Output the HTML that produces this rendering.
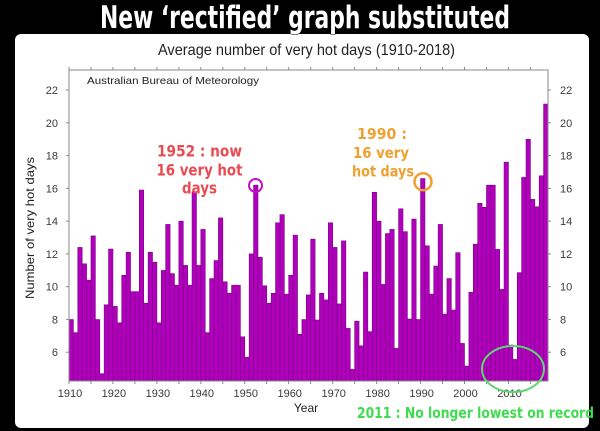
<!DOCTYPE html>
<html>
<head>
<meta charset="utf-8">
<style>
html,body{margin:0;padding:0;background:#000;}
body{width:600px;height:431px;overflow:hidden;}
svg{display:block;}
</style>
</head>
<body>
<svg width="600" height="431" viewBox="0 0 600 431" xmlns="http://www.w3.org/2000/svg">
  <rect x="0" y="0" width="600" height="431" fill="#000"/>
  <rect x="15" y="34" width="574" height="394" rx="6" ry="6" fill="#fff"/>

  <text x="100" y="28" textLength="410" lengthAdjust="spacingAndGlyphs" font-family="'DejaVu Sans', 'Liberation Sans', sans-serif" font-weight="bold" font-size="31" fill="#fff" stroke="#000" stroke-width="1" paint-order="stroke">New ‘rectified’ graph substituted</text>

  <text x="158" y="55" textLength="297" lengthAdjust="spacingAndGlyphs" font-family="'Liberation Sans', sans-serif" font-size="16" fill="#222">Average number of very hot days (1910-2018)</text>

  <defs>
    <clipPath id="plotclip"><rect x="69" y="60" width="479" height="321"/></clipPath>
  </defs>
  <g clip-path="url(#plotclip)">
    <g transform="translate(69,450.66) scale(4.3945,-16.39)" fill="#b000bc" stroke="#7a0084" stroke-width="0.6">
      <rect vector-effect="non-scaling-stroke" x="0" y="0" width="1" height="8.0"/>
      <rect vector-effect="non-scaling-stroke" x="1" y="0" width="1" height="7.2"/>
      <rect vector-effect="non-scaling-stroke" x="2" y="0" width="1" height="12.4"/>
      <rect vector-effect="non-scaling-stroke" x="3" y="0" width="1" height="11.4"/>
      <rect vector-effect="non-scaling-stroke" x="4" y="0" width="1" height="10.4"/>
      <rect vector-effect="non-scaling-stroke" x="5" y="0" width="1" height="13.1"/>
      <rect vector-effect="non-scaling-stroke" x="6" y="0" width="1" height="8.0"/>
      <rect vector-effect="non-scaling-stroke" x="7" y="0" width="1" height="4.7"/>
      <rect vector-effect="non-scaling-stroke" x="8" y="0" width="1" height="8.9"/>
      <rect vector-effect="non-scaling-stroke" x="9" y="0" width="1" height="12.3"/>
      <rect vector-effect="non-scaling-stroke" x="10" y="0" width="1" height="8.8"/>
      <rect vector-effect="non-scaling-stroke" x="11" y="0" width="1" height="7.8"/>
      <rect vector-effect="non-scaling-stroke" x="12" y="0" width="1" height="10.7"/>
      <rect vector-effect="non-scaling-stroke" x="13" y="0" width="1" height="12.1"/>
      <rect vector-effect="non-scaling-stroke" x="14" y="0" width="1" height="9.7"/>
      <rect vector-effect="non-scaling-stroke" x="15" y="0" width="1" height="9.7"/>
      <rect vector-effect="non-scaling-stroke" x="16" y="0" width="1" height="15.9"/>
      <rect vector-effect="non-scaling-stroke" x="17" y="0" width="1" height="9.0"/>
      <rect vector-effect="non-scaling-stroke" x="18" y="0" width="1" height="12.1"/>
      <rect vector-effect="non-scaling-stroke" x="19" y="0" width="1" height="11.5"/>
      <rect vector-effect="non-scaling-stroke" x="20" y="0" width="1" height="7.8"/>
      <rect vector-effect="non-scaling-stroke" x="21" y="0" width="1" height="11.0"/>
      <rect vector-effect="non-scaling-stroke" x="22" y="0" width="1" height="13.8"/>
      <rect vector-effect="non-scaling-stroke" x="23" y="0" width="1" height="10.8"/>
      <rect vector-effect="non-scaling-stroke" x="24" y="0" width="1" height="10.1"/>
      <rect vector-effect="non-scaling-stroke" x="25" y="0" width="1" height="14.0"/>
      <rect vector-effect="non-scaling-stroke" x="26" y="0" width="1" height="11.3"/>
      <rect vector-effect="non-scaling-stroke" x="27" y="0" width="1" height="10.1"/>
      <rect vector-effect="non-scaling-stroke" x="28" y="0" width="1" height="15.8"/>
      <rect vector-effect="non-scaling-stroke" x="29" y="0" width="1" height="11.3"/>
      <rect vector-effect="non-scaling-stroke" x="30" y="0" width="1" height="13.5"/>
      <rect vector-effect="non-scaling-stroke" x="31" y="0" width="1" height="7.2"/>
      <rect vector-effect="non-scaling-stroke" x="32" y="0" width="1" height="10.5"/>
      <rect vector-effect="non-scaling-stroke" x="33" y="0" width="1" height="11.6"/>
      <rect vector-effect="non-scaling-stroke" x="34" y="0" width="1" height="14.2"/>
      <rect vector-effect="non-scaling-stroke" x="35" y="0" width="1" height="10.3"/>
      <rect vector-effect="non-scaling-stroke" x="36" y="0" width="1" height="9.6"/>
      <rect vector-effect="non-scaling-stroke" x="37" y="0" width="1" height="10.1"/>
      <rect vector-effect="non-scaling-stroke" x="38" y="0" width="1" height="10.1"/>
      <rect vector-effect="non-scaling-stroke" x="39" y="0" width="1" height="6.95"/>
      <rect vector-effect="non-scaling-stroke" x="40" y="0" width="1" height="5.7"/>
      <rect vector-effect="non-scaling-stroke" x="41" y="0" width="1" height="12.0"/>
      <rect vector-effect="non-scaling-stroke" x="42" y="0" width="1" height="16.2"/>
      <rect vector-effect="non-scaling-stroke" x="43" y="0" width="1" height="11.8"/>
      <rect vector-effect="non-scaling-stroke" x="44" y="0" width="1" height="10.06"/>
      <rect vector-effect="non-scaling-stroke" x="45" y="0" width="1" height="9.0"/>
      <rect vector-effect="non-scaling-stroke" x="46" y="0" width="1" height="9.6"/>
      <rect vector-effect="non-scaling-stroke" x="47" y="0" width="1" height="13.9"/>
      <rect vector-effect="non-scaling-stroke" x="48" y="0" width="1" height="14.4"/>
      <rect vector-effect="non-scaling-stroke" x="49" y="0" width="1" height="9.55"/>
      <rect vector-effect="non-scaling-stroke" x="50" y="0" width="1" height="10.7"/>
      <rect vector-effect="non-scaling-stroke" x="51" y="0" width="1" height="13.15"/>
      <rect vector-effect="non-scaling-stroke" x="52" y="0" width="1" height="7.1"/>
      <rect vector-effect="non-scaling-stroke" x="53" y="0" width="1" height="8.0"/>
      <rect vector-effect="non-scaling-stroke" x="54" y="0" width="1" height="9.5"/>
      <rect vector-effect="non-scaling-stroke" x="55" y="0" width="1" height="12.9"/>
      <rect vector-effect="non-scaling-stroke" x="56" y="0" width="1" height="7.97"/>
      <rect vector-effect="non-scaling-stroke" x="57" y="0" width="1" height="9.6"/>
      <rect vector-effect="non-scaling-stroke" x="58" y="0" width="1" height="9.2"/>
      <rect vector-effect="non-scaling-stroke" x="59" y="0" width="1" height="13.9"/>
      <rect vector-effect="non-scaling-stroke" x="60" y="0" width="1" height="12.4"/>
      <rect vector-effect="non-scaling-stroke" x="61" y="0" width="1" height="8.95"/>
      <rect vector-effect="non-scaling-stroke" x="62" y="0" width="1" height="12.8"/>
      <rect vector-effect="non-scaling-stroke" x="63" y="0" width="1" height="7.46"/>
      <rect vector-effect="non-scaling-stroke" x="64" y="0" width="1" height="4.96"/>
      <rect vector-effect="non-scaling-stroke" x="65" y="0" width="1" height="7.9"/>
      <rect vector-effect="non-scaling-stroke" x="66" y="0" width="1" height="6.4"/>
      <rect vector-effect="non-scaling-stroke" x="67" y="0" width="1" height="10.9"/>
      <rect vector-effect="non-scaling-stroke" x="68" y="0" width="1" height="7.26"/>
      <rect vector-effect="non-scaling-stroke" x="69" y="0" width="1" height="15.76"/>
      <rect vector-effect="non-scaling-stroke" x="70" y="0" width="1" height="14.0"/>
      <rect vector-effect="non-scaling-stroke" x="71" y="0" width="1" height="10.14"/>
      <rect vector-effect="non-scaling-stroke" x="72" y="0" width="1" height="13.25"/>
      <rect vector-effect="non-scaling-stroke" x="73" y="0" width="1" height="13.5"/>
      <rect vector-effect="non-scaling-stroke" x="74" y="0" width="1" height="6.24"/>
      <rect vector-effect="non-scaling-stroke" x="75" y="0" width="1" height="14.76"/>
      <rect vector-effect="non-scaling-stroke" x="76" y="0" width="1" height="13.36"/>
      <rect vector-effect="non-scaling-stroke" x="77" y="0" width="1" height="8.03"/>
      <rect vector-effect="non-scaling-stroke" x="78" y="0" width="1" height="14.13"/>
      <rect vector-effect="non-scaling-stroke" x="79" y="0" width="1" height="8.0"/>
      <rect vector-effect="non-scaling-stroke" x="80" y="0" width="1" height="16.6"/>
      <rect vector-effect="non-scaling-stroke" x="81" y="0" width="1" height="12.5"/>
      <rect vector-effect="non-scaling-stroke" x="82" y="0" width="1" height="9.55"/>
      <rect vector-effect="non-scaling-stroke" x="83" y="0" width="1" height="11.26"/>
      <rect vector-effect="non-scaling-stroke" x="84" y="0" width="1" height="13.8"/>
      <rect vector-effect="non-scaling-stroke" x="85" y="0" width="1" height="8.33"/>
      <rect vector-effect="non-scaling-stroke" x="86" y="0" width="1" height="10.5"/>
      <rect vector-effect="non-scaling-stroke" x="87" y="0" width="1" height="8.58"/>
      <rect vector-effect="non-scaling-stroke" x="88" y="0" width="1" height="12.08"/>
      <rect vector-effect="non-scaling-stroke" x="89" y="0" width="1" height="6.54"/>
      <rect vector-effect="non-scaling-stroke" x="90" y="0" width="1" height="5.16"/>
      <rect vector-effect="non-scaling-stroke" x="91" y="0" width="1" height="9.66"/>
      <rect vector-effect="non-scaling-stroke" x="92" y="0" width="1" height="12.6"/>
      <rect vector-effect="non-scaling-stroke" x="93" y="0" width="1" height="15.09"/>
      <rect vector-effect="non-scaling-stroke" x="94" y="0" width="1" height="14.85"/>
      <rect vector-effect="non-scaling-stroke" x="95" y="0" width="1" height="16.2"/>
      <rect vector-effect="non-scaling-stroke" x="96" y="0" width="1" height="16.2"/>
      <rect vector-effect="non-scaling-stroke" x="97" y="0" width="1" height="12.28"/>
      <rect vector-effect="non-scaling-stroke" x="98" y="0" width="1" height="9.84"/>
      <rect vector-effect="non-scaling-stroke" x="99" y="0" width="1" height="17.6"/>
      <rect vector-effect="non-scaling-stroke" x="100" y="0" width="1" height="6.44"/>
      <rect vector-effect="non-scaling-stroke" x="101" y="0" width="1" height="5.57"/>
      <rect vector-effect="non-scaling-stroke" x="102" y="0" width="1" height="10.86"/>
      <rect vector-effect="non-scaling-stroke" x="103" y="0" width="1" height="16.67"/>
      <rect vector-effect="non-scaling-stroke" x="104" y="0" width="1" height="19.0"/>
      <rect vector-effect="non-scaling-stroke" x="105" y="0" width="1" height="15.33"/>
      <rect vector-effect="non-scaling-stroke" x="106" y="0" width="1" height="14.88"/>
      <rect vector-effect="non-scaling-stroke" x="107" y="0" width="1" height="16.77"/>
      <rect vector-effect="non-scaling-stroke" x="108" y="0" width="1" height="21.15"/>
    </g>
  </g>

  <rect x="69" y="70" width="479" height="311" fill="none" stroke="#8a8a8a" stroke-width="1"/>

  <g stroke="#8a8a8a" stroke-width="1">
    <line x1="66" y1="90" x2="69" y2="90"/><line x1="548" y1="90" x2="551" y2="90"/>
    <line x1="66" y1="122.8" x2="69" y2="122.8"/><line x1="548" y1="122.8" x2="551" y2="122.8"/>
    <line x1="66" y1="155.6" x2="69" y2="155.6"/><line x1="548" y1="155.6" x2="551" y2="155.6"/>
    <line x1="66" y1="188.3" x2="69" y2="188.3"/><line x1="548" y1="188.3" x2="551" y2="188.3"/>
    <line x1="66" y1="221.1" x2="69" y2="221.1"/><line x1="548" y1="221.1" x2="551" y2="221.1"/>
    <line x1="66" y1="253.9" x2="69" y2="253.9"/><line x1="548" y1="253.9" x2="551" y2="253.9"/>
    <line x1="66" y1="286.7" x2="69" y2="286.7"/><line x1="548" y1="286.7" x2="551" y2="286.7"/>
    <line x1="66" y1="319.4" x2="69" y2="319.4"/><line x1="548" y1="319.4" x2="551" y2="319.4"/>
    <line x1="66" y1="352.2" x2="69" y2="352.2"/><line x1="548" y1="352.2" x2="551" y2="352.2"/>
  </g>
  <g stroke="#8a8a8a" stroke-width="1">
    <line x1="69" y1="67" x2="69" y2="70"/><line x1="69" y1="381" x2="69" y2="384"/>
    <line x1="91" y1="67" x2="91" y2="70"/><line x1="91" y1="381" x2="91" y2="384"/>
    <line x1="112.9" y1="67" x2="112.9" y2="70"/><line x1="112.9" y1="381" x2="112.9" y2="384"/>
    <line x1="134.9" y1="67" x2="134.9" y2="70"/><line x1="134.9" y1="381" x2="134.9" y2="384"/>
    <line x1="156.9" y1="67" x2="156.9" y2="70"/><line x1="156.9" y1="381" x2="156.9" y2="384"/>
    <line x1="178.9" y1="67" x2="178.9" y2="70"/><line x1="178.9" y1="381" x2="178.9" y2="384"/>
    <line x1="200.8" y1="67" x2="200.8" y2="70"/><line x1="200.8" y1="381" x2="200.8" y2="384"/>
    <line x1="222.8" y1="67" x2="222.8" y2="70"/><line x1="222.8" y1="381" x2="222.8" y2="384"/>
    <line x1="244.8" y1="67" x2="244.8" y2="70"/><line x1="244.8" y1="381" x2="244.8" y2="384"/>
    <line x1="266.7" y1="67" x2="266.7" y2="70"/><line x1="266.7" y1="381" x2="266.7" y2="384"/>
    <line x1="288.7" y1="67" x2="288.7" y2="70"/><line x1="288.7" y1="381" x2="288.7" y2="384"/>
    <line x1="310.7" y1="67" x2="310.7" y2="70"/><line x1="310.7" y1="381" x2="310.7" y2="384"/>
    <line x1="332.7" y1="67" x2="332.7" y2="70"/><line x1="332.7" y1="381" x2="332.7" y2="384"/>
    <line x1="354.6" y1="67" x2="354.6" y2="70"/><line x1="354.6" y1="381" x2="354.6" y2="384"/>
    <line x1="376.6" y1="67" x2="376.6" y2="70"/><line x1="376.6" y1="381" x2="376.6" y2="384"/>
    <line x1="398.6" y1="67" x2="398.6" y2="70"/><line x1="398.6" y1="381" x2="398.6" y2="384"/>
    <line x1="420.6" y1="67" x2="420.6" y2="70"/><line x1="420.6" y1="381" x2="420.6" y2="384"/>
    <line x1="442.5" y1="67" x2="442.5" y2="70"/><line x1="442.5" y1="381" x2="442.5" y2="384"/>
    <line x1="464.5" y1="67" x2="464.5" y2="70"/><line x1="464.5" y1="381" x2="464.5" y2="384"/>
    <line x1="486.5" y1="67" x2="486.5" y2="70"/><line x1="486.5" y1="381" x2="486.5" y2="384"/>
    <line x1="508.5" y1="67" x2="508.5" y2="70"/><line x1="508.5" y1="381" x2="508.5" y2="384"/>
    <line x1="530.4" y1="67" x2="530.4" y2="70"/><line x1="530.4" y1="381" x2="530.4" y2="384"/>
  </g>

  <g font-family="'Liberation Sans', sans-serif" font-size="11" fill="#3a3a3a">
    <g text-anchor="end">
      <text x="58" y="94">22</text>
      <text x="58" y="126.8">20</text>
      <text x="58" y="159.6">18</text>
      <text x="58" y="192.3">16</text>
      <text x="58" y="225.1">14</text>
      <text x="58" y="257.9">12</text>
      <text x="58" y="290.7">10</text>
      <text x="58" y="323.4">8</text>
      <text x="58" y="356.2">6</text>
    </g>
    <g text-anchor="start">
      <text x="560" y="94">22</text>
      <text x="560" y="126.8">20</text>
      <text x="560" y="159.6">18</text>
      <text x="560" y="192.3">16</text>
      <text x="560" y="225.1">14</text>
      <text x="560" y="257.9">12</text>
      <text x="560" y="290.7">10</text>
      <text x="560" y="323.4">8</text>
      <text x="560" y="356.2">6</text>
    </g>
    <g text-anchor="middle">
      <text x="70" y="397">1910</text>
      <text x="113.9" y="397">1920</text>
      <text x="157.9" y="397">1930</text>
      <text x="201.8" y="397">1940</text>
      <text x="245.8" y="397">1950</text>
      <text x="289.7" y="397">1960</text>
      <text x="333.7" y="397">1970</text>
      <text x="377.6" y="397">1980</text>
      <text x="421.6" y="397">1990</text>
      <text x="465.5" y="397">2000</text>
      <text x="509.5" y="397">2010</text>
    </g>
  </g>

  <text x="306" y="412" text-anchor="middle" font-family="'Liberation Sans', sans-serif" font-size="12" fill="#222">Year</text>
  <text transform="translate(34,228) rotate(-90)" text-anchor="middle" textLength="142" lengthAdjust="spacingAndGlyphs" font-family="'Liberation Sans', sans-serif" font-size="12" fill="#222">Number of very hot days</text>

  <text x="87" y="84" textLength="172" lengthAdjust="spacingAndGlyphs" font-family="'Liberation Sans', sans-serif" font-size="10.5" fill="#222">Australian Bureau of Meteorology</text>

  <g font-family="'DejaVu Sans', 'Liberation Sans', sans-serif" font-size="16" font-weight="bold" fill="#ea4a52" text-anchor="middle">
    <text x="199.5" y="156.5" textLength="85" lengthAdjust="spacingAndGlyphs">1952 : now</text>
    <text x="199.5" y="175.5" textLength="86" lengthAdjust="spacingAndGlyphs">16 very hot</text>
    <text x="199.5" y="193.5" textLength="35" lengthAdjust="spacingAndGlyphs">days</text>
  </g>
  <circle cx="255.5" cy="185.5" r="6.5" fill="none" stroke="#c010c8" stroke-width="2"/>

  <g font-family="'DejaVu Sans', 'Liberation Sans', sans-serif" font-size="15" font-weight="bold" fill="#f0a030" text-anchor="middle">
    <text x="382" y="139" textLength="50" lengthAdjust="spacingAndGlyphs">1990 :</text>
    <text x="381" y="158" textLength="56" lengthAdjust="spacingAndGlyphs">16 very</text>
    <text x="383" y="176.5" textLength="62" lengthAdjust="spacingAndGlyphs">hot days</text>
  </g>
  <circle cx="423" cy="181.7" r="8.5" fill="none" stroke="#f0a030" stroke-width="2.5"/>

  <ellipse cx="513" cy="369" rx="31" ry="23" fill="none" stroke="#5cd86e" stroke-width="2"/>
  <text x="357" y="418" textLength="237" lengthAdjust="spacingAndGlyphs" font-family="'DejaVu Sans', 'Liberation Sans', sans-serif" font-size="15" font-weight="bold" fill="#3fdc4f">2011 : No longer lowest on record</text>
</svg>
</body>
</html>
